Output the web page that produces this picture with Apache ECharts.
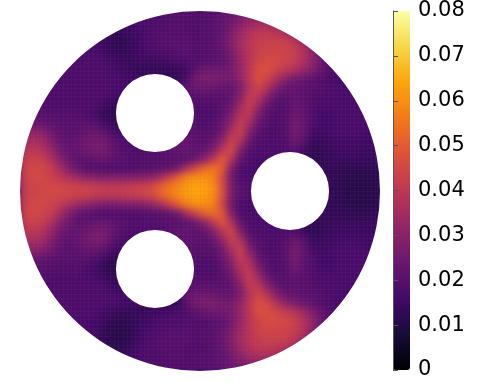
<!DOCTYPE html>
<html><head><meta charset="utf-8">
<script src="https://cdn.jsdelivr.net/npm/echarts@6/dist/echarts.min.js"></script>
<style>
html,body{margin:0;padding:0;background:#fff}
#c{width:483px;height:382px;background:#45106b}
#c canvas[data-zr-dom-id="zr_0"]{filter:blur(3.5px)}
</style></head><body><div id="c"></div>
<script>
// Field values in thousandths; rows top to bottom, columns left to right.
const fieldRows = [
[17,17,17,17,17,17,17,17,17,17,14,15,16,17,18,18,19,19,19,19,19,20,22,24,26,28,28,28,26,24,20,20,20,20,20,20,20,20,20,20],
[17,17,17,17,17,17,17,17,16,15,14,14,15,17,18,18,19,19,19,19,19,20,22,25,29,33,35,35,33,30,24,20,20,20,20,20,20,20,20,20],
[17,17,17,17,17,17,17,16,15,14,13,13,15,16,18,19,19,19,19,18,19,20,22,27,33,38,40,41,39,37,32,27,21,18,18,18,18,18,18,18],
[17,17,17,17,17,17,17,16,16,14,12,12,14,16,18,19,20,20,20,19,19,20,23,28,35,39,42,43,43,43,40,34,25,20,18,18,18,18,18,18],
[17,17,17,17,17,17,17,17,17,15,13,13,14,16,17,18,19,20,20,19,19,20,22,27,34,39,43,44,44,44,42,38,30,22,18,17,17,17,17,17],
[17,17,17,17,17,17,17,18,18,17,15,14,14,15,15,15,16,17,18,19,19,20,21,25,32,39,44,46,45,44,42,37,31,24,18,17,17,17,17,17],
[17,17,17,17,18,18,18,18,18,18,16,15,14,13,13,13,13,14,15,20,24,24,24,26,32,40,47,47,44,41,38,33,28,23,19,17,16,16,16,16],
[18,18,18,18,18,18,18,18,18,18,17,16,15,14,14,14,13,12,18,25,27,27,26,26,31,40,47,44,37,30,26,24,21,19,17,16,16,16,16,16],
[18,18,18,18,18,18,18,18,18,18,17,16,15,15,15,15,14,16,20,24,24,23,22,22,27,38,44,38,28,23,22,21,20,19,18,17,17,17,17,17],
[18,18,18,18,18,18,18,18,18,18,16,15,15,15,15,15,15,17,19,20,20,20,20,22,29,41,40,29,22,20,22,21,19,18,18,17,17,17,17,17],
[19,19,19,18,18,18,18,18,17,15,13,13,15,15,15,15,15,17,18,18,18,18,20,24,34,42,33,23,19,19,23,21,18,17,17,17,17,17,17,17],
[20,20,20,19,19,19,19,18,16,13,12,13,15,15,15,15,15,17,18,18,18,18,21,27,38,40,27,20,18,19,24,22,18,16,16,17,17,17,17,17],
[23,23,22,21,20,20,20,20,19,16,13,14,15,15,15,15,16,18,19,19,18,19,23,31,42,35,23,19,18,19,25,23,18,16,16,17,17,17,17,17],
[30,31,29,25,21,20,21,23,23,21,17,16,15,15,15,15,16,19,21,20,19,20,25,37,43,28,20,18,18,19,25,23,16,15,16,17,17,17,16,16],
[35,36,34,28,23,21,23,25,26,25,20,18,17,16,16,16,18,21,23,21,20,23,31,43,38,23,19,18,18,19,24,21,14,14,15,16,16,16,15,15],
[39,40,38,32,25,22,22,24,26,25,22,19,18,18,18,18,20,22,22,21,22,28,40,46,28,19,18,18,17,18,20,16,12,13,14,15,15,15,14,14],
[42,43,42,37,29,24,21,21,22,23,21,20,19,19,19,19,20,20,20,24,30,40,50,38,22,18,17,17,16,16,15,13,12,13,14,14,14,14,14,14],
[44,45,45,42,35,27,22,19,19,18,18,18,18,19,19,20,21,25,36,45,52,55,50,28,18,17,16,16,15,15,14,13,13,13,13,13,12,12,12,12],
[43,45,45,43,40,36,33,30,28,28,28,28,28,29,30,34,42,50,58,60,61,58,45,25,18,17,16,16,15,15,14,13,13,13,13,12,12,11,11,11],
[42,44,45,45,45,44,43,43,42,41,41,41,42,43,45,50,55,59,62,64,63,60,47,26,20,18,16,16,15,15,14,13,13,13,13,12,11,11,11,11],
[42,44,45,45,45,44,43,43,41,41,40,41,42,43,45,50,55,59,62,64,63,60,47,26,20,18,16,16,15,15,14,13,13,13,13,12,11,11,11,11],
[43,45,45,43,41,37,33,31,28,27,27,28,28,29,31,35,42,50,57,60,60,57,44,25,18,17,16,16,15,15,14,13,13,13,13,12,12,11,11,11],
[44,45,44,42,35,27,22,20,19,18,18,18,18,19,19,20,21,25,35,44,51,54,49,28,18,17,16,16,15,15,14,13,13,13,13,13,12,12,12,12],
[42,43,42,37,29,24,21,21,22,23,21,20,19,19,19,19,20,20,21,24,30,40,49,37,22,18,17,17,16,16,15,13,12,13,14,14,14,14,14,14],
[39,40,38,32,25,22,22,24,26,26,22,19,18,18,18,18,20,22,22,21,22,28,39,45,28,19,18,18,17,18,19,15,12,13,14,15,15,15,14,14],
[35,36,34,28,23,21,23,25,27,25,20,17,16,16,16,16,18,20,22,21,20,23,31,42,38,23,19,18,18,19,23,20,14,14,15,16,16,16,15,15],
[30,31,29,25,21,20,21,23,23,21,16,15,15,15,15,15,16,18,20,20,19,20,25,36,43,28,20,18,18,20,26,22,16,15,16,17,17,17,16,16],
[23,23,22,21,20,20,20,20,18,15,13,13,15,15,15,15,16,18,19,19,18,19,23,31,42,35,23,19,18,20,26,22,18,16,16,17,17,17,17,17],
[20,20,20,19,19,19,19,17,15,12,11,13,15,15,15,15,15,17,18,18,18,18,21,27,38,40,27,20,18,19,25,21,18,16,16,17,17,17,17,17],
[19,19,19,18,18,18,18,17,16,14,12,13,15,15,15,15,15,17,18,18,18,18,20,24,34,42,33,23,19,19,22,20,18,17,17,17,17,17,17,17],
[18,18,18,18,18,18,18,18,18,17,14,14,15,15,15,15,15,17,19,20,20,20,20,22,29,41,40,29,22,20,21,20,19,18,18,17,17,17,17,17],
[18,18,18,18,18,18,18,18,18,18,17,15,14,15,15,15,15,17,22,24,24,23,22,22,27,38,44,38,28,23,22,21,20,19,18,17,17,17,17,17],
[18,18,18,18,18,18,18,18,18,18,17,16,15,14,14,14,13,12,20,26,27,27,26,26,31,40,47,45,38,31,27,24,21,19,17,16,16,16,16,16],
[17,17,17,17,18,18,18,18,17,16,14,13,13,13,14,15,16,17,18,20,23,24,24,26,32,40,47,47,45,42,39,34,28,23,19,17,16,16,16,16],
[17,17,17,17,17,17,17,17,16,14,12,12,13,15,16,17,18,18,19,19,19,20,21,25,32,39,44,46,46,45,43,38,31,24,18,17,17,17,17,17],
[17,17,17,17,17,17,17,17,15,13,11,11,13,15,17,18,19,19,19,19,19,20,22,27,34,39,43,45,44,44,42,38,30,22,18,17,17,17,17,17],
[17,17,17,17,17,17,17,16,14,13,11,11,13,16,18,19,20,20,20,19,19,20,23,28,35,39,42,43,43,43,40,34,25,20,18,18,18,18,18,18],
[17,17,17,17,17,17,16,15,14,13,12,12,15,17,18,19,19,19,19,18,19,20,22,27,33,38,40,41,39,37,32,27,21,18,18,18,18,18,18,18],
[17,17,17,17,17,17,17,17,15,14,14,14,15,17,18,18,19,19,19,19,19,20,22,25,29,33,35,35,33,30,24,20,20,20,20,20,20,20,20,20],
[17,17,17,17,17,17,17,17,17,17,14,15,16,17,18,18,19,19,19,19,19,20,22,24,26,28,28,28,26,24,20,20,20,20,20,20,20,20,20,20]
];
const columns = fieldRows[0].map((_, i) => String(i));
const rowsIdx = fieldRows.map((_, j) => String(j));
const holes = [[-0.25, 0.433], [0.5, 0], [-0.25, -0.433]];
const holeRadius = 0.217;
const colorTicks = ['0','0.01','0.02','0.03','0.04','0.05','0.06','0.07','0.08'];
const inferno = ['#000004','#160b39','#420a68','#6a176e','#932667','#bc3754','#dd513a','#f37819','#fca50a','#f6d746','#fcffa4'];

const cells = [];
fieldRows.forEach((r, j) => r.forEach((v, i) => cells.push([i, j, v / 1000])));

const seam = {show: true, lineStyle: {color: 'rgba(200,90,160,0.07)', width: 1}};
const chart = echarts.init(document.getElementById('c'), null, {renderer: 'canvas'});
chart.setOption({
  animation: false,
  tooltip: {show: false},
  grid: [
    {left: 20, top: 11, width: 360, height: 360},
    {left: 20, top: 11, width: 360, height: 360},
    {left: 393, top: 11, width: 17, height: 359}
  ],
  xAxis: [
    {type: 'category', gridIndex: 0, data: columns, show: false},
    {type: 'value', gridIndex: 1, min: -1, max: 1, interval: 1 / 42, zlevel: 1,
      axisLine: {show: false}, axisTick: {show: false}, axisLabel: {show: false}, splitLine: seam},
    {type: 'value', gridIndex: 2, min: 0, max: 1, show: false, zlevel: 1}
  ],
  yAxis: [
    {type: 'category', gridIndex: 0, data: rowsIdx, inverse: true, show: false},
    {type: 'value', gridIndex: 1, min: -1, max: 1, interval: 1 / 42, zlevel: 1,
      axisLine: {show: false}, axisTick: {show: false}, axisLabel: {show: false}, splitLine: seam},
    {type: 'value', gridIndex: 2, min: 0, max: 0.08, interval: 0.01, position: 'right', zlevel: 1, z: 6,
      splitLine: {show: false},
      axisLine: {show: true, lineStyle: {color: '#555', width: 1}},
      axisTick: {show: true, length: 5, lineStyle: {color: '#555', width: 1}},
      axisLabel: {show: true, margin: 8, color: '#000', fontSize: 21, fontFamily: 'DejaVu Sans', padding: [5, 0, 0, 0],
        formatter: (v) => colorTicks[Math.round(v * 100)]}}
  ],
  visualMap: {
    type: 'continuous', min: 0, max: 0.08, seriesIndex: 0, dimension: 2,
    left: 393, top: 11, itemWidth: 17, itemHeight: 359, padding: 0,
    calculable: false, hoverLink: false, text: null, showLabel: false, zlevel: 1, z: 5,
    inRange: {color: inferno}
  },
  series: [
    {type: 'heatmap', xAxisIndex: 0, yAxisIndex: 0, data: cells, zlevel: 0, silent: true, progressive: 0,
      itemStyle: {borderWidth: 0}},
    {type: 'custom', xAxisIndex: 1, yAxisIndex: 1, zlevel: 1, z: 2, silent: true, clip: false,
      coordinateSystem: 'cartesian2d',
      data: [[0, 0, 1, 2.2]].concat(holes.map(h => [h[0], h[1], 0, holeRadius])),
      renderItem: function (params, api) {
        const c = api.coord([api.value(0), api.value(1)]);
        const unit = api.size([1, 1])[0];
        return {type: 'ring', shape: {cx: c[0], cy: c[1], r0: api.value(2) * unit, r: api.value(3) * unit},
          style: {fill: '#fff', stroke: null}};
      }}
  ]
});
</script></body></html>
